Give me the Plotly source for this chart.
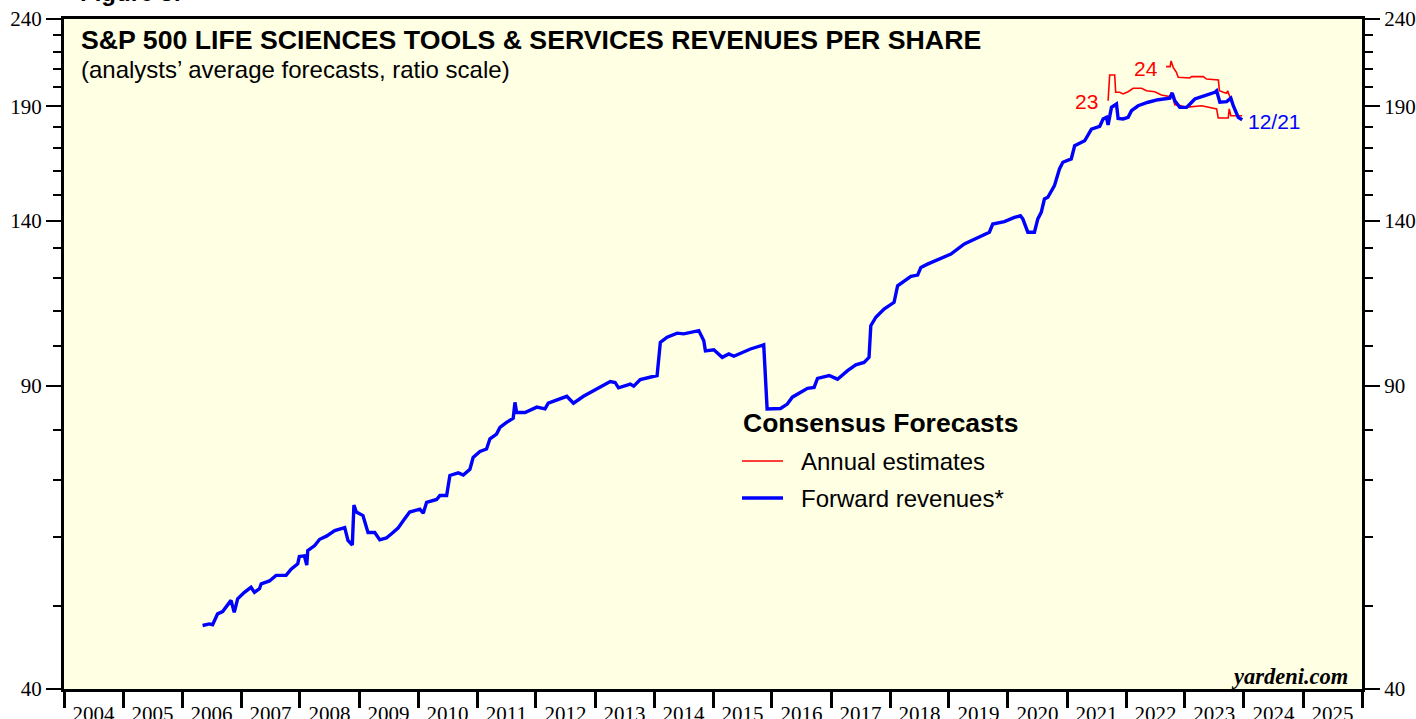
import plotly.graph_objects as go

# ---------------- data ----------------
fwd_dates = [
    "2006-05-08", "2006-06-19", "2006-07-09", "2006-08-09", "2006-09-09", "2006-10-10", "2006-10-31", "2006-11-20", "2006-12-11",
    "2007-01-22", "2007-03-04", "2007-03-25", "2007-04-25", "2007-05-06", "2007-06-26", "2007-08-06", "2007-10-07", "2007-11-07", "2007-12-18", "2007-12-28",
    "2008-01-28", "2008-02-12", "2008-02-18", "2008-04-01", "2008-05-02", "2008-06-13", "2008-08-03", "2008-10-04", "2008-10-24", "2008-11-20", "2008-11-30", "2008-12-15",
    "2009-01-25", "2009-02-25", "2009-04-08", "2009-05-09", "2009-06-19", "2009-07-30", "2009-08-30", "2009-09-30", "2009-11-10",
    "2010-01-12", "2010-02-02", "2010-02-23", "2010-04-26", "2010-05-16", "2010-06-27", "2010-07-17", "2010-09-07", "2010-10-08", "2010-11-18", "2010-12-08",
    "2011-01-19", "2011-03-01", "2011-03-22", "2011-05-02", "2011-05-23", "2011-07-03", "2011-08-13", "2011-08-24", "2011-09-03", "2011-10-25",
    "2012-01-06", "2012-02-26", "2012-03-17", "2012-07-10", "2012-08-20", "2012-10-21", "2012-12-22",
    "2013-02-02", "2013-04-05", "2013-05-05", "2013-05-26", "2013-08-07", "2013-08-28", "2013-10-08",
    "2014-01-20", "2014-02-09", "2014-03-23", "2014-05-24", "2014-07-04", "2014-10-05", "2014-11-05", "2014-11-15",
    "2015-01-06", "2015-02-27", "2015-04-09", "2015-05-10", "2015-08-21", "2015-11-11", "2015-12-02",
    "2016-02-23", "2016-04-05", "2016-05-06", "2016-06-27", "2016-08-08", "2016-09-18", "2016-10-09", "2016-12-20",
    "2017-02-10", "2017-04-13", "2017-06-03", "2017-07-24", "2017-08-24", "2017-09-04", "2017-10-05", "2017-11-25",
    "2018-01-26", "2018-02-17", "2018-03-19", "2018-04-19", "2018-05-10", "2018-06-21", "2018-07-11", "2018-08-21", "2018-11-12",
    "2019-01-13", "2019-04-06", "2019-06-28", "2019-09-08", "2019-09-29", "2019-12-10",
    "2020-02-10", "2020-03-18", "2020-04-02", "2020-05-03", "2020-06-13", "2020-07-04", "2020-07-25", "2020-08-14", "2020-09-04", "2020-10-15", "2020-11-15", "2020-12-06",
    "2021-01-27", "2021-02-17", "2021-04-20", "2021-06-01", "2021-07-22", "2021-08-12", "2021-09-02", "2021-09-12", "2021-10-03", "2021-11-03", "2021-11-13", "2021-12-14",
    "2022-01-14", "2022-02-04", "2022-03-17", "2022-05-18", "2022-07-19", "2022-09-29", "2022-10-14", "2022-10-30", "2022-11-30",
    "2023-01-11", "2023-02-01", "2023-03-03", "2023-05-04", "2023-07-05", "2023-07-16", "2023-08-05", "2023-09-16", "2023-10-12", "2023-10-27", "2023-11-27", "2023-12-21",
]
fwd_values = [
    47.4, 47.6, 47.5, 48.9, 49.2, 50.0, 50.7, 49.1, 50.9,
    51.8, 52.5, 51.8, 52.3, 53.0, 53.4, 54.2, 54.2, 55.1, 55.9, 57.0,
    57.1, 55.7, 57.9, 58.7, 59.7, 60.2, 61.1, 61.6, 59.5, 58.8, 65.4, 64.2,
    63.6, 60.8, 60.8, 59.6, 59.9, 60.8, 61.5, 62.7, 64.2,
    64.7, 64.0, 65.9, 66.4, 67.1, 67.1, 70.8, 71.3, 70.9, 72.0, 74.3,
    75.5, 76.0, 78.1, 79.1, 80.5, 81.6, 82.5, 86.1, 83.8, 83.8,
    85.0, 84.6, 85.9, 87.5, 85.9, 87.5, 88.8,
    89.9, 91.0, 90.8, 89.5, 90.4, 89.9, 91.5,
    92.5, 101.1, 102.5, 103.6, 103.4, 104.3, 101.5, 98.8,
    99.1, 97.1, 98.0, 97.4, 99.3, 100.4, 84.6,
    84.7, 85.7, 87.3, 88.4, 89.4, 89.6, 91.8, 92.5,
    91.6, 93.7, 95.2, 95.8, 97.1, 105.7, 108.1, 110.5,
    112.5, 117.6, 118.7, 119.7, 120.6, 121.0, 123.5, 124.6, 126.6,
    128.0, 131.5, 133.9, 135.7, 138.7, 139.6,
    141.2, 141.8, 140.6, 135.7, 135.7, 140.6, 143.1, 148.3, 149.0, 153.7, 160.7, 163.6,
    165.1, 171.0, 173.3, 178.8, 180.1, 183.7, 184.5, 180.8, 189.5, 191.2, 184.0, 183.7,
    184.5, 187.8, 190.3, 192.1, 193.4, 194.2, 196.9, 192.9, 189.5,
    189.5, 191.2, 193.8, 195.5, 197.3, 198.1, 192.1, 192.4, 194.2, 190.3, 184.5, 183.3,
]

est23_dates = [
    "2021-09-12", "2021-09-22", "2021-10-23", "2021-10-29", "2021-11-23", "2021-12-14",
    "2022-01-14", "2022-02-14", "2022-04-07", "2022-05-08", "2022-06-28", "2022-08-08",
    "2022-09-29", "2022-10-09", "2022-10-30", "2022-12-10", "2023-01-01", "2023-04-15",
    "2023-07-16", "2023-07-26", "2023-09-26", "2023-10-02", "2023-10-12", "2023-12-21",
]
est23_values = [
    192.9, 206.6, 206.6, 197.3, 197.3, 196.4,
    197.6, 199.4, 199.4, 198.1, 197.6, 195.9,
    195.0, 197.3, 190.8, 190.3, 189.5, 190.3,
    188.7, 184.2, 184.2, 188.7, 185.3, 185.3,
]

est24_dates = [
    "2022-09-06", "2022-10-01", "2022-10-07", "2022-10-20", "2022-11-09", "2022-11-20",
    "2023-01-31", "2023-02-11", "2023-04-24", "2023-05-15", "2023-07-27", "2023-08-02",
    "2023-08-27", "2023-09-16", "2023-09-22", "2023-10-06", "2023-10-27", "2023-11-27", "2023-12-21",
]
est24_values = [
    211.3, 211.3, 214.5, 210.9, 208.1, 205.4,
    205.0, 205.7, 205.7, 204.4, 203.9, 198.1,
    197.3, 196.8, 198.1, 194.7, 190.3, 184.5, 183.5,
]

year_labels = [str(y) for y in range(2004, 2026)]
y_major = [40, 90, 140, 190, 240]
y_minor = [50, 60, 70, 80, 100, 110, 120, 130, 150, 160, 170, 180, 200, 210, 220, 230]

# ---------------- figure ----------------
W, H = 1416, 719
L, R, T, B = 64, 54, 19, 30
PW, PH = W - L - R, H - T - B


def px(x):
    return (x - L) / PW


def py(y):
    return (H - B - y) / PH


fig = go.Figure()
fig.add_trace(go.Scatter(x=est23_dates, y=est23_values, mode="lines",
                         line=dict(color="#FF0000", width=1.6), showlegend=False, hoverinfo="skip"))
fig.add_trace(go.Scatter(x=est24_dates, y=est24_values, mode="lines",
                         line=dict(color="#FF0000", width=1.6), showlegend=False, hoverinfo="skip"))
fig.add_trace(go.Scatter(x=fwd_dates, y=fwd_values, mode="lines",
                         line=dict(color="#0000FF", width=3.4), showlegend=False, hoverinfo="skip"))
# empty trace to activate the right-hand axis
fig.add_trace(go.Scatter(x=[None], y=[None], yaxis="y2", showlegend=False, hoverinfo="skip"))

serif = "Liberation Serif, Times New Roman, serif"
sans = "Liberation Sans, Arial, sans-serif"

yaxis_common = dict(
    type="log",
    range=[1.6020600, 2.3802112],
    tickmode="array",
    tickvals=y_major,
    ticktext=[str(v) for v in y_major],
    ticks="outside",
    ticklen=15,
    tickwidth=2,
    tickcolor="black",
    tickfont=dict(family=serif, size=21, color="black"),
    showgrid=False,
    zeroline=False,
    showline=True,
    linecolor="black",
    linewidth=3,
    automargin=False,
    minor=dict(tickmode="array", tickvals=y_minor, ticks="outside",
               ticklen=8, tickwidth=2, tickcolor="black", showgrid=False),
)

fig.update_layout(
    width=W, height=H,
    margin=dict(l=L, r=R, t=T, b=B, pad=0, autoexpand=False),
    paper_bgcolor="white",
    plot_bgcolor="#FFFFE3",
    showlegend=False,
    xaxis=dict(
        type="date",
        range=["2004-01-01", "2026-01-01"],
        tickmode="array",
        tickvals=[f"{y}-07-02" for y in range(2004, 2026)],
        ticktext=year_labels,
        ticks="outside",
        ticklen=4,
        tickcolor="rgba(0,0,0,0)",
        tickfont=dict(family=serif, size=21, color="black"),
        showgrid=False,
        zeroline=False,
        showline=True,
        linecolor="black",
        linewidth=3,
        mirror=True,
        automargin=False,
        minor=dict(tickmode="array", tickvals=[f"{y}-01-01" for y in range(2004, 2027)],
                   ticks="outside", ticklen=16, tickwidth=3, tickcolor="black", showgrid=False),
    ),
    yaxis=dict(**yaxis_common, side="left"),
    yaxis2=dict(**yaxis_common, side="right", overlaying="y", anchor="x"),
)

ann = [
    dict(text="<b>Figure 5:</b>", x=px(78), y=py(-7), xanchor="left", yanchor="middle",
         font=dict(family=sans, size=24, color="black")),
    dict(text="<b>S&P 500 LIFE SCIENCES TOOLS & SERVICES REVENUES PER SHARE</b>", x=px(79), y=py(40),
         xanchor="left", yanchor="middle", font=dict(family=sans, size=26.7, color="black")),
    dict(text="(analysts’ average forecasts, ratio scale)", x=px(79), y=py(70),
         xanchor="left", yanchor="middle", font=dict(family=sans, size=24, color="black")),
    dict(text="<b>Consensus Forecasts</b>", x=px(741), y=py(423),
         xanchor="left", yanchor="middle", font=dict(family=sans, size=26.5, color="black")),
    dict(text="Annual estimates", x=px(799), y=py(461),
         xanchor="left", yanchor="middle", font=dict(family=sans, size=24, color="black")),
    dict(text="Forward revenues*", x=px(799), y=py(498),
         xanchor="left", yanchor="middle", font=dict(family=sans, size=24, color="black")),
    dict(text="<b><i>yardeni.com</i></b>", x=px(1350), y=py(676),
         xanchor="right", yanchor="middle", font=dict(family=serif, size=22.5, color="black")),
    dict(text="23", x=px(1100), y=py(101), xanchor="right", yanchor="middle",
         font=dict(family=sans, size=21, color="#FF0000")),
    dict(text="24", x=px(1160), y=py(68), xanchor="right", yanchor="middle",
         font=dict(family=sans, size=21, color="#FF0000")),
    dict(text="12/21", x=px(1246), y=py(121), xanchor="left", yanchor="middle",
         font=dict(family=sans, size=21, color="#0000FF")),
]
for a in ann:
    a.update(xref="paper", yref="paper", showarrow=False)
fig.update_layout(annotations=ann)

fig.update_layout(shapes=[
    dict(type="line", xref="paper", yref="paper", x0=px(742), x1=px(783), y0=py(461), y1=py(461),
         line=dict(color="#FF0000", width=1.6)),
    dict(type="line", xref="paper", yref="paper", x0=px(742), x1=px(783), y0=py(498), y1=py(498),
         line=dict(color="#0000FF", width=3.4)),
])

fig.write_html("out.html",
               config={"displayModeBar": False},
               post_script="document.body.style.margin='0';document.body.style.overflow='hidden';")
